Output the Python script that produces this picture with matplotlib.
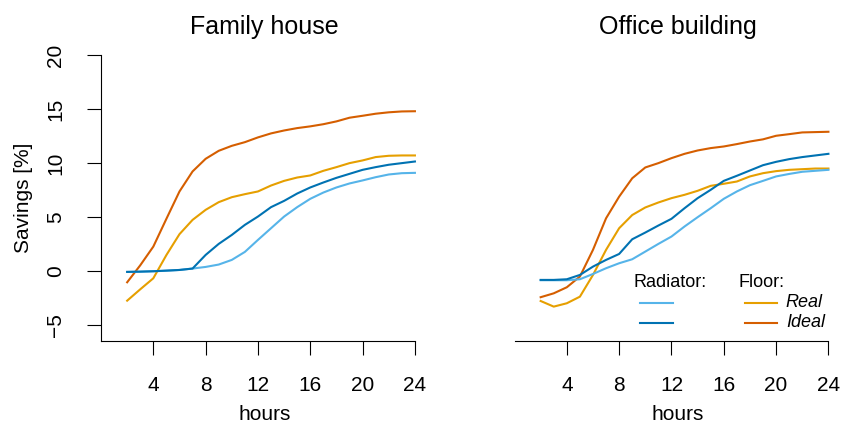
import matplotlib
matplotlib.use("Agg")
import matplotlib.pyplot as plt

plt.rcParams['font.family'] = ['Liberation Sans', 'DejaVu Sans']

# savings in percent, one value per hour from 2 to 24
hours = list(range(2, 25))

house_rad_real = [-0.06, -0.05, 0.0, 0.05, 0.12, 0.25, 0.40, 0.62, 1.05, 1.79, 2.90, 3.98,
                  5.06, 5.93, 6.70, 7.28, 7.75, 8.12, 8.40, 8.70, 8.95, 9.07, 9.10]
house_rad_ideal = [-0.06, -0.03, 0.0, 0.06, 0.12, 0.25, 1.51, 2.53, 3.36, 4.29, 5.06, 5.93,
                   6.51, 7.19, 7.75, 8.21, 8.64, 9.01, 9.38, 9.63, 9.85, 10.00, 10.15]
house_floor_real = [-2.72, -1.67, -0.65, 1.50, 3.43, 4.75, 5.68, 6.39, 6.85, 7.13, 7.38, 7.93,
                    8.36, 8.67, 8.86, 9.29, 9.63, 10.00, 10.25, 10.56, 10.68, 10.71, 10.71]
house_floor_ideal = [-1.02, 0.55, 2.28, 4.85, 7.38, 9.23, 10.40, 11.14, 11.60, 11.94, 12.38, 12.75,
                     13.02, 13.24, 13.40, 13.60, 13.86, 14.20, 14.38, 14.57, 14.70, 14.78, 14.80]

office_rad_real = [-0.83, -0.83, -0.83, -0.74, -0.25, 0.28, 0.74, 1.11, 1.82, 2.53, 3.21, 4.14,
                   5.00, 5.83, 6.70, 7.38, 7.96, 8.36, 8.77, 9.00, 9.20, 9.29, 9.38]
office_rad_ideal = [-0.80, -0.80, -0.74, -0.34, 0.43, 1.05, 1.60, 2.96, 3.58, 4.23, 4.85, 5.83,
                    6.76, 7.53, 8.36, 8.83, 9.32, 9.81, 10.12, 10.37, 10.56, 10.71, 10.86]
office_floor_real = [-2.75, -3.27, -2.96, -2.35, -0.34, 1.98, 3.98, 5.20, 5.90, 6.36, 6.76, 7.07,
                     7.44, 7.90, 8.09, 8.30, 8.77, 9.07, 9.26, 9.38, 9.44, 9.50, 9.50]
office_floor_ideal = [-2.40, -2.04, -1.48, -0.49, 1.98, 4.90, 6.90, 8.60, 9.60, 10.00, 10.46, 10.86,
                      11.17, 11.39, 11.54, 11.76, 12.00, 12.20, 12.53, 12.68, 12.84, 12.87, 12.90]

xticks = [4, 8, 12, 16, 20, 24]
yticks = [-5, 0, 5, 10, 15, 20]

col_rad_real = '#56B4E9'
col_rad_ideal = '#0072B2'
col_floor_real = '#E69F00'
col_floor_ideal = '#D55E00'

fig = plt.figure(figsize=(8.42, 4.25), dpi=100)
ax1 = fig.add_axes([101 / 842, 84 / 425, 327 / 842, 286 / 425])
ax2 = fig.add_axes([514.5 / 842, 84 / 425, 327 / 842, 286 / 425])

panels = [
    (ax1, 'Family house', house_rad_real, house_rad_ideal, house_floor_real, house_floor_ideal),
    (ax2, 'Office building', office_rad_real, office_rad_ideal, office_floor_real, office_floor_ideal),
]

for ax, title, rr, ri, fr, fi in panels:
    ax.plot(hours, fi, color=col_floor_ideal, lw=1.5)
    ax.plot(hours, fr, color=col_floor_real, lw=1.5)
    ax.plot(hours, rr, color=col_rad_real, lw=1.5)
    ax.plot(hours, ri, color=col_rad_ideal, lw=1.5)
    ax.set_xlim(0, 25)
    ax.set_ylim(-6.45, 20)
    ax.set_xticks(xticks)
    ax.spines['top'].set_visible(False)
    ax.spines['right'].set_visible(False)
    ax.spines['bottom'].set_bounds(0, 24)
    ax.spines['bottom'].set_linewidth(0.8)
    ax.spines['left'].set_linewidth(0.8)
    ax.tick_params(axis='x', length=10, width=0.8, pad=15, labelsize=15)
    ax.set_xlabel('hours', fontsize=15)
    ax.xaxis.set_label_coords(0.5, -0.225)
    ax.set_title(title, fontsize=18, pad=15)

ax1.set_yticks(yticks)
ax1.set_yticklabels([str(v).replace('-', '\u2212') for v in yticks], rotation=90, va='center')
ax1.tick_params(axis='y', length=10, width=0.8, pad=16, labelsize=15)
ax1.set_ylabel('Savings [%]', fontsize=15)
ax1.yaxis.set_label_coords(-0.208, 0.5)

ax2.spines['left'].set_visible(False)
ax2.set_yticks([])

# legend drawn by hand: two columns, header over each
tr = ax2.transAxes
ax2.text(0.365, 0.206, 'Radiator:', transform=tr, fontsize=13, va='center', ha='left')
ax2.text(0.686, 0.206, 'Floor:', transform=tr, fontsize=13, va='center', ha='left')
ax2.plot([0.384, 0.485], [0.133, 0.133], color=col_rad_real, lw=1.5, transform=tr)
ax2.plot([0.384, 0.485], [0.063, 0.063], color=col_rad_ideal, lw=1.5, transform=tr)
ax2.plot([0.705, 0.803], [0.133, 0.133], color=col_floor_real, lw=1.5, transform=tr)
ax2.plot([0.705, 0.803], [0.063, 0.063], color=col_floor_ideal, lw=1.5, transform=tr)
ax2.text(0.83, 0.133, 'Real', transform=tr, fontsize=13, style='italic', va='center', ha='left')
ax2.text(0.83, 0.063, 'Ideal', transform=tr, fontsize=13, style='italic', va='center', ha='left')

fig.savefig('out.png', dpi=100)
